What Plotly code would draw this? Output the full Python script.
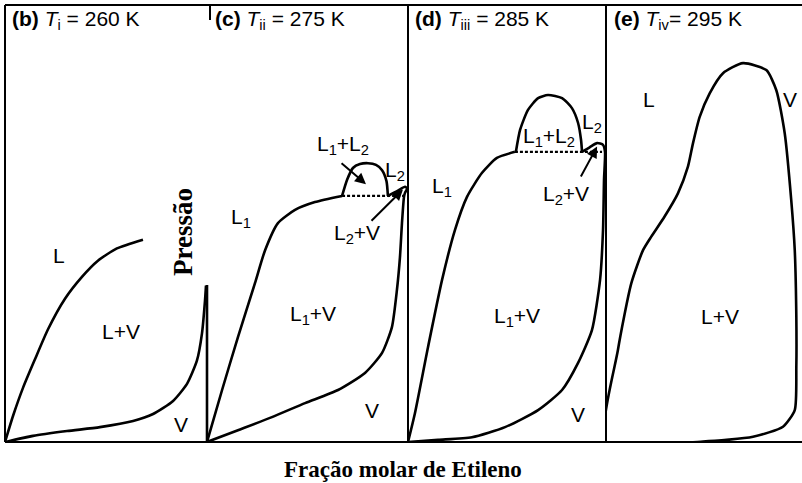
import plotly.graph_objects as go

W, H = 802, 483

# ---------------- data (mole fraction of ethylene, reduced pressure) ----------------
# panel (b) T = 260 K
bub_b_x = [0.0, 0.040, 0.090, 0.149, 0.213, 0.297, 0.381, 0.460, 0.554, 0.683]
bub_b_p = [0.0, 0.060, 0.125, 0.190, 0.258, 0.328, 0.378, 0.415, 0.443, 0.463]
dew_b_x = [0.0, 0.139, 0.307, 0.470, 0.634, 0.733, 0.832, 0.901, 0.950, 0.975, 0.990, 0.995]
dew_b_p = [0.0, 0.014, 0.025, 0.034, 0.048, 0.064, 0.094, 0.133, 0.186, 0.248, 0.323, 0.358]

# panel (c) T = 275 K
bub_c_x = [0.0, 0.075, 0.154, 0.239, 0.289, 0.353, 0.438, 0.537, 0.672]
bub_c_p = [0.0, 0.119, 0.240, 0.364, 0.439, 0.501, 0.531, 0.549, 0.563]
dome_c_x = [0.672, 0.697, 0.726, 0.761, 0.801, 0.841, 0.871, 0.893, 0.900]
dome_c_p = [0.563, 0.600, 0.627, 0.636, 0.638, 0.634, 0.622, 0.597, 0.563]
l2v_c_x = [0.900, 0.950, 0.985, 0.995, 0.985, 0.980, 0.970, 0.960, 0.945, 0.920, 0.871, 0.786, 0.652, 0.488, 0.323, 0.154, 0.0]
l2v_c_p = [0.563, 0.575, 0.584, 0.580, 0.570, 0.561, 0.501, 0.423, 0.348, 0.263, 0.204, 0.158, 0.119, 0.089, 0.057, 0.027, 0.0]
tie_c_x = [0.672, 0.985]
tie_c_p = [0.563, 0.563]

# panel (d) T = 285 K
bub_d_x = [0.0, 0.035, 0.101, 0.172, 0.237, 0.298, 0.374, 0.449, 0.540]
bub_d_p = [0.0, 0.066, 0.217, 0.371, 0.485, 0.561, 0.616, 0.650, 0.664]
dome_d_x = [0.545, 0.566, 0.606, 0.657, 0.707, 0.778, 0.828, 0.859, 0.874, 0.879]
dome_d_p = [0.664, 0.714, 0.760, 0.787, 0.794, 0.787, 0.764, 0.730, 0.691, 0.664]
l2v_d_x = [0.879, 0.919, 0.955, 0.985, 0.995, 0.990, 0.985, 0.970, 0.929, 0.859, 0.778, 0.657, 0.490, 0.323, 0.152, 0.0]
l2v_d_p = [0.664, 0.675, 0.684, 0.680, 0.664, 0.600, 0.485, 0.371, 0.256, 0.181, 0.119, 0.073, 0.034, 0.011, 0.005, 0.0]
tie_d_x = [0.540, 0.980]
tie_d_p = [0.664, 0.664]

# panel (e) T = 295 K
env_e_x = [0.0, 0.061, 0.129, 0.189, 0.231, 0.299, 0.367, 0.418, 0.444, 0.478, 0.529, 0.597,
           0.699, 0.818, 0.869, 0.912, 0.945, 0.963, 0.971, 0.971, 0.963, 0.903, 0.750, 0.495, 0.0]
env_e_p = [0.0, 0.211, 0.363, 0.439, 0.470, 0.516, 0.569, 0.630, 0.684, 0.744, 0.798, 0.844,
           0.867, 0.851, 0.805, 0.706, 0.554, 0.439, 0.287, 0.172, 0.073, 0.035, 0.012, 0.001, 0.0]

panel_titles = ["<b>(b)</b> <i>T</i><sub>i</sub> = 260 K",
                "<b>(c)</b> <i>T</i><sub>ii</sub> = 275 K",
                "<b>(d)</b> <i>T</i><sub>iii</sub> = 285 K",
                "<b>(e)</b> <i>T</i><sub>iv</sub>= 295 K"]
x_title = "Fração molar de Etileno"
y_title = "Pressão"

# ---------------- layout geometry (pixels) ----------------
px_edges = [5, 207, 408, 606, 802]
top_px, bot_px = 5, 442


def pxx(v):
    return v / W


def pxy(v):
    return (H - v) / H


fig = go.Figure()
LW = 2.6
line = dict(color="black", width=LW, shape="spline", smoothing=0.6)


def add(xs, ps, k, dash=None, spline=True):
    ln = dict(line)
    if not spline:
        ln["shape"] = "linear"
    if dash:
        ln["dash"] = dash
        ln["width"] = 2.2
    sfx = "" if k == 1 else str(k)
    fig.add_trace(go.Scatter(x=xs, y=ps, mode="lines", line=ln, hoverinfo="skip",
                             showlegend=False, xaxis="x" + sfx, yaxis="y" + sfx))


add(bub_b_x, bub_b_p, 1)
add(dew_b_x, dew_b_p, 1)
add(bub_c_x, bub_c_p, 2)
add(dome_c_x, dome_c_p, 2)
add(l2v_c_x, l2v_c_p, 2)
add(tie_c_x, tie_c_p, 2, dash="3px,2px", spline=False)
add(bub_d_x, bub_d_p, 3)
add(dome_d_x, dome_d_p, 3)
add(l2v_d_x, l2v_d_p, 3)
add(tie_d_x, tie_d_p, 3, dash="3px,2px", spline=False)
add(env_e_x, env_e_p, 4)

lay = dict(width=W, height=H, margin=dict(l=0, r=0, t=0, b=0),
           paper_bgcolor="white", plot_bgcolor="white", showlegend=False)
ydom = [pxy(bot_px), pxy(top_px)]
for i in range(4):
    sfx = "" if i == 0 else str(i + 1)
    lay["xaxis" + sfx] = dict(domain=[pxx(px_edges[i]), pxx(px_edges[i + 1])], range=[0, 1],
                              visible=False, fixedrange=True, anchor="y" + sfx)
    lay["yaxis" + sfx] = dict(domain=ydom, range=[0, 1], visible=False, fixedrange=True,
                              anchor="x" + sfx)
fig.update_layout(**lay)

# frame lines
frame = dict(color="black", width=2)
shapes = [
    dict(type="line", xref="paper", yref="paper", x0=pxx(5), x1=1, y0=pxy(top_px), y1=pxy(top_px), line=frame),
    dict(type="line", xref="paper", yref="paper", x0=pxx(5), x1=1, y0=pxy(bot_px), y1=pxy(bot_px), line=frame),
    dict(type="line", xref="paper", yref="paper", x0=pxx(5), x1=pxx(5), y0=pxy(bot_px), y1=pxy(top_px), line=frame),
    dict(type="line", xref="paper", yref="paper", x0=pxx(207), x1=pxx(207), y0=pxy(bot_px), y1=pxy(285), line=dict(color="black", width=2.6)),
    dict(type="line", xref="paper", yref="paper", x0=pxx(210), x1=pxx(210), y0=pxy(20), y1=pxy(top_px), line=frame),
    dict(type="line", xref="paper", yref="paper", x0=pxx(408), x1=pxx(408), y0=pxy(bot_px), y1=pxy(top_px), line=frame),
    dict(type="line", xref="paper", yref="paper", x0=pxx(606), x1=pxx(606), y0=pxy(bot_px), y1=pxy(top_px), line=frame),
]
fig.update_layout(shapes=shapes)

SANS = "Liberation Sans Narrow, Liberation Sans, Arial, sans-serif"
SERIF = "Liberation Serif, Times New Roman, serif"
lab = dict(family=SANS, size=21, color="black")
ann = []
title_left = [10, 213, 413, 612]
for i, t in enumerate(panel_titles):
    ann.append(dict(text=t, xref="paper", yref="paper", x=pxx(title_left[i]), y=pxy(20),
                    xanchor="left", yanchor="middle", showarrow=False, font=lab))


def label(t, k, x, y):
    sfx = "" if k == 1 else str(k)
    ann.append(dict(text=t, xref="x" + sfx, yref="y" + sfx, x=x, y=y, showarrow=False,
                    xanchor="center", yanchor="middle", font=lab))


def arrow(k, tx, ty, hx, hy):
    sfx = "" if k == 1 else str(k)
    ann.append(dict(text="", xref="x" + sfx, yref="y" + sfx, axref="x" + sfx, ayref="y" + sfx,
                    x=hx, y=hy, ax=tx, ay=ty, showarrow=True, arrowhead=2, arrowsize=1.1,
                    arrowwidth=2, arrowcolor="black"))


label("L", 1, 0.267, 0.427)
label("L+V", 1, 0.574, 0.252)
label("V", 1, 0.871, 0.041)

label("L<sub>1</sub>", 2, 0.169, 0.513)
label("L<sub>1</sub>+V", 2, 0.527, 0.291)
label("V", 2, 0.821, 0.071)
label("L<sub>1</sub>+L<sub>2</sub>", 2, 0.677, 0.680)
label("L<sub>2</sub>", 2, 0.935, 0.620)
label("L<sub>2</sub>+V", 2, 0.746, 0.475)
arrow(2, 0.662, 0.641, 0.791, 0.590)
arrow(2, 0.811, 0.503, 0.975, 0.578)

label("L<sub>1</sub>", 3, 0.172, 0.584)
label("L<sub>1</sub>+L<sub>2</sub>", 3, 0.712, 0.698)
label("L<sub>2</sub>", 3, 0.929, 0.730)
label("L<sub>2</sub>+V", 3, 0.798, 0.565)
label("L<sub>1</sub>+V", 3, 0.551, 0.286)
label("V", 3, 0.859, 0.064)
arrow(3, 0.869, 0.604, 0.955, 0.676)

label("L", 4, 0.219, 0.783)
label("V", 4, 0.939, 0.783)
label("L+V", 4, 0.582, 0.288)

ann.append(dict(text="<b>" + x_title + "</b>", xref="paper", yref="paper", x=pxx(403), y=pxy(469),
                xanchor="center", yanchor="middle", showarrow=False,
                font=dict(family=SERIF, size=23, color="black")))
ann.append(dict(text="<b>" + y_title + "</b>", xref="paper", yref="paper", x=pxx(183), y=pxy(232),
                xanchor="center", yanchor="middle", showarrow=False, textangle=-90,
                font=dict(family=SERIF, size=27, color="black")))
fig.update_layout(annotations=ann)

fig.write_html("out.html")
